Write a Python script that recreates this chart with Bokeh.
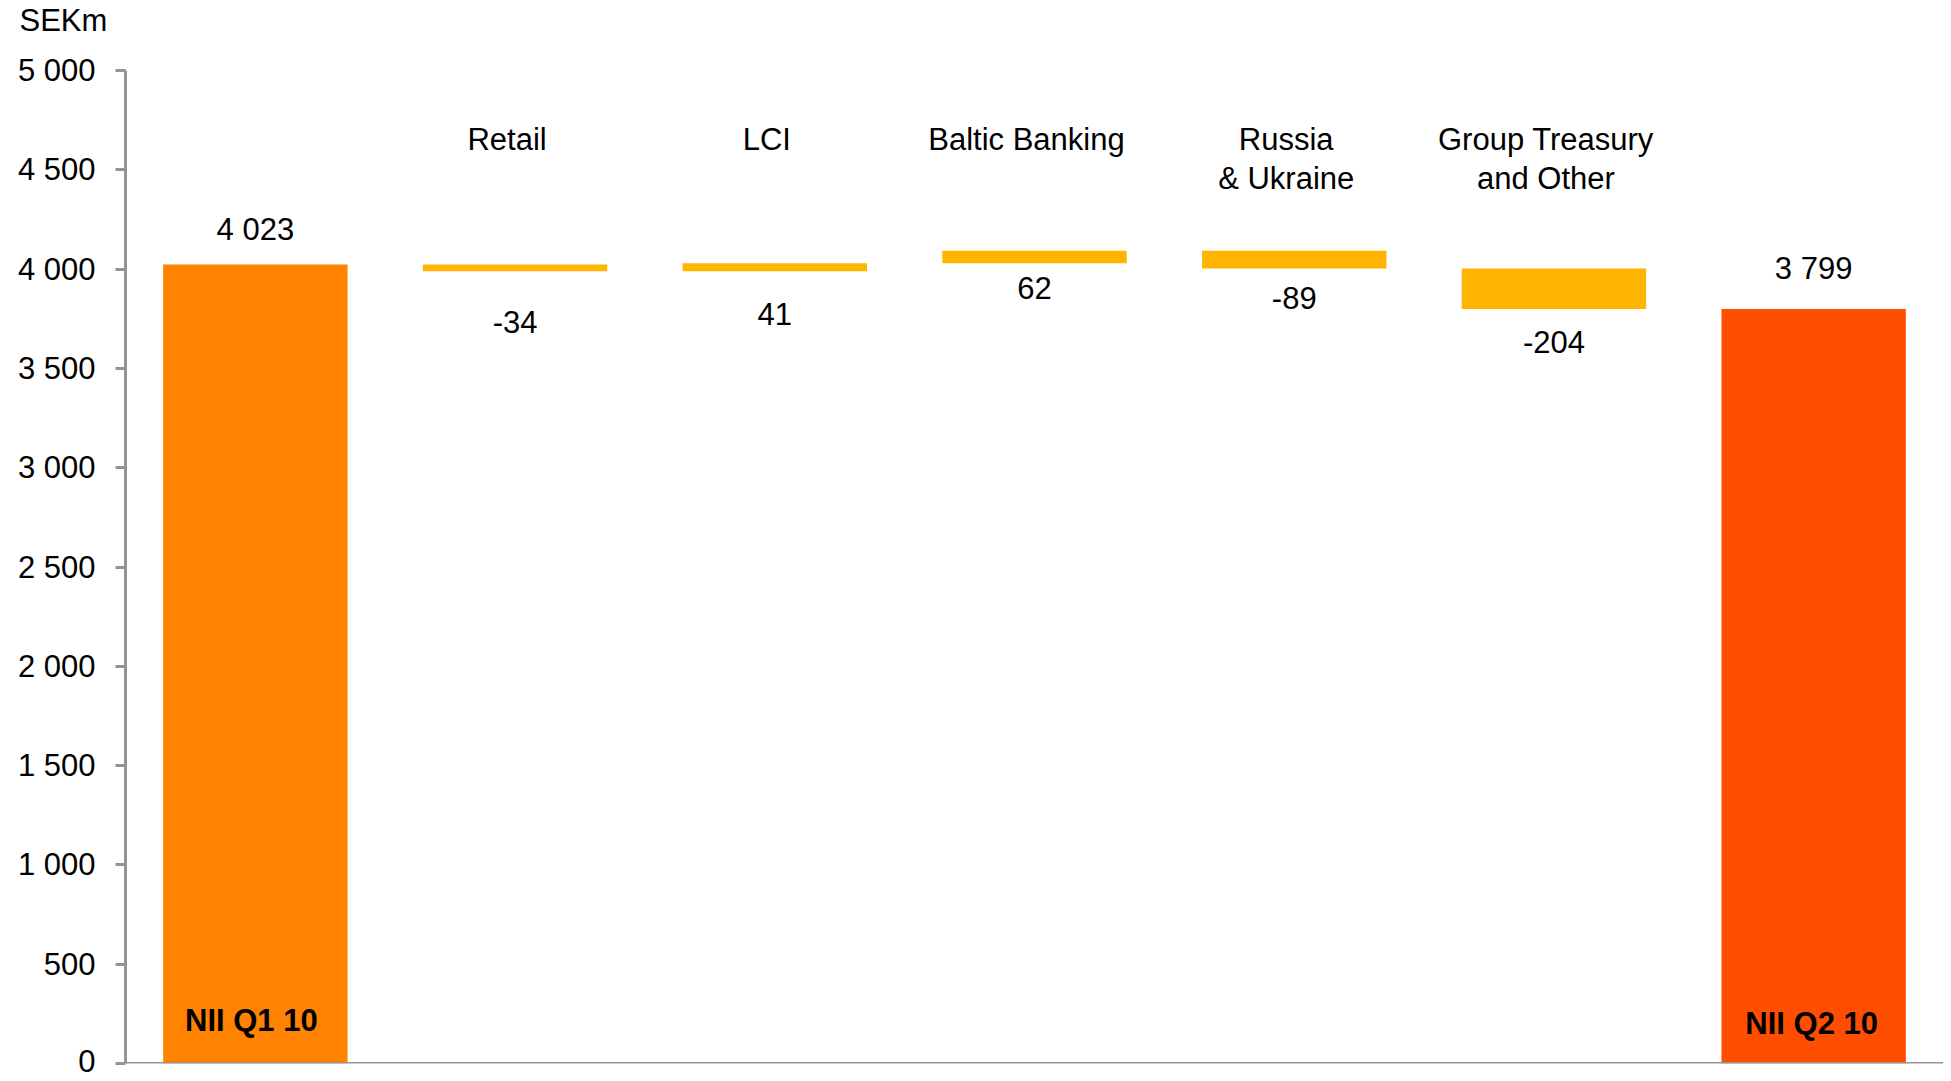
from bokeh.plotting import figure
from bokeh.models import FactorRange, Range1d, FixedTicker, Span, ColumnDataSource, Title
from bokeh.core.properties import value
from bokeh.embed import file_html
from bokeh.resources import INLINE

# ---- data ----
categories = ["NII Q1 10", "Retail", "LCI", "Baltic Banking", "Russia & Ukraine",
              "Group Treasury and Other", "NII Q2 10"]
header_line1 = ["", "Retail", "LCI", "Baltic Banking", "Russia", "Group Treasury", ""]
header_line2 = ["", "", "", "", "& Ukraine", "and Other", ""]
start_total = 4023
changes = [-34, 41, 62, -89, -204]
end_total = 3799
y_ticks = list(range(0, 5001, 500))

# ---- styling ----
FONT = value("Liberation Sans")
FS = "31px"
C_START = "#FF8200"
C_END = "#FF4E00"
C_STEP = "#FFB400"
AXIS_C = "#959595"
Y_MAX = 5000
FRAME_H = 993
UPP = Y_MAX / FRAME_H  # data units per pixel

total_label_px = [35, 41]
change_label_px = [51, 43, 25, 29, 33]

def fmt(v):
    return f"{v:,}".replace(",", " ")

# waterfall geometry
bottoms, tops, colors = [0], [start_total], [C_START]
level = start_total
for c in changes:
    new = level + c
    bottoms.append(min(level, new))
    tops.append(max(level, new))
    colors.append(C_STEP)
    level = new
bottoms.append(0)
tops.append(end_total)
colors.append(C_END)

src = ColumnDataSource(dict(x=categories, bottom=bottoms, top=tops, color=colors))

p = figure(x_range=FactorRange(*categories, range_padding=0),
           y_range=Range1d(0, Y_MAX),
           width=1943, height=1078, output_backend="svg", toolbar_location=None,
           min_border_left=125, min_border_right=0, min_border_top=70, min_border_bottom=15)
p.title.visible = False
p.outline_line_color = None
p.grid.visible = False
p.xaxis.visible = False
p.background_fill_color = "white"
p.border_fill_color = "white"

# spacer between unit label and frame, then the unit label itself (outermost)
p.add_layout(Title(text=" ", text_font_size="2px", standoff=25), "above")
p.add_layout(Title(text="SEKm", align="left", vertical_align="top", offset=-106, standoff=4,
                   text_font="Liberation Sans", text_font_size=FS, text_font_style="normal",
                   text_color="black"), "above")

p.vbar(x="x", bottom="bottom", top="top", width=0.71, color="color", line_color=None, source=src)

# y axis
ax = p.yaxis[0]
ax.ticker = FixedTicker(ticks=y_ticks)
ax.major_label_overrides = {t: fmt(t) for t in y_ticks}
ax.axis_line_color = AXIS_C
ax.axis_line_width = 3
ax.major_tick_line_color = AXIS_C
ax.major_tick_line_width = 3
ax.major_tick_out = 10
ax.major_tick_in = 0
ax.minor_tick_line_color = None
ax.major_label_standoff = 20
ax.major_label_text_font = "Liberation Sans"
ax.major_label_text_font_size = FS
ax.major_label_text_color = "black"

p.add_layout(Span(location=0, dimension="width", line_color=AXIS_C, line_width=3))

# value labels
lx, ly, lt = [], [], []
lx.append(categories[0]); ly.append(start_total + total_label_px[0] * UPP); lt.append(fmt(start_total))
level = start_total
for i, c in enumerate(changes):
    new = level + c
    lx.append(categories[i + 1]); ly.append(min(level, new) - change_label_px[i] * UPP); lt.append(str(c))
    level = new
lx.append(categories[-1]); ly.append(end_total + total_label_px[1] * UPP); lt.append(fmt(end_total))
p.text(x=lx, y=ly, text=lt, text_font=FONT, text_font_size=FS, text_align="center",
       text_baseline="middle", text_color="black")

# header labels
h1_y = Y_MAX - 69 * UPP
h2_y = Y_MAX - 108 * UPP
p.text(x=categories, y=[h1_y] * len(categories), text=header_line1, text_font=FONT, text_font_size=FS,
       text_align="center", text_baseline="middle", text_color="black", x_offset=-8)
p.text(x=categories, y=[h2_y] * len(categories), text=header_line2, text_font=FONT, text_font_size=FS,
       text_align="center", text_baseline="middle", text_color="black", x_offset=-8)

# bar names inside totals
name_y = [(1063 - 1020) * UPP, (1063 - 1023) * UPP]
p.text(x=[categories[0], categories[-1]], y=name_y, text=[categories[0], categories[-1]],
       text_font=FONT, text_font_size=FS, text_font_style="bold", text_align="center",
       text_baseline="middle", text_color="black", x_offset=[-4, -2])

open("out.html", "w").write(file_html(p, INLINE))
